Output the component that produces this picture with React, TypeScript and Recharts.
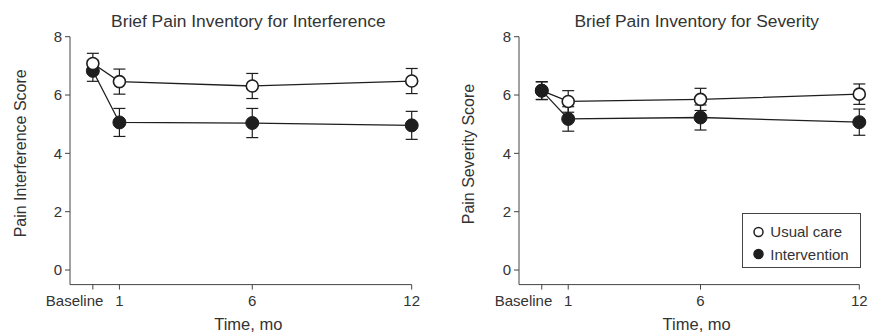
import React from 'react';
import { LineChart, Line, XAxis, YAxis, ErrorBar, Legend } from 'recharts';

const months = [0, 1, 6, 12];
const xTicks = [0, 1, 6, 12];
const xTickLabels = ['Baseline', '1', '6', '12'];
const yTicks = [0, 2, 4, 6, 8];

const interferenceUsual = [7.08, 6.46, 6.31, 6.48];
const interferenceUsualErr = [0.35, 0.43, 0.43, 0.43];
const interferenceIntervention = [6.83, 5.06, 5.04, 4.96];
const interferenceInterventionErr = [0.36, 0.48, 0.5, 0.48];

const severityUsual = [6.15, 5.78, 5.85, 6.03];
const severityUsualErr = [0.3, 0.37, 0.38, 0.35];
const severityIntervention = [6.15, 5.18, 5.23, 5.07];
const severityInterventionErr = [0.31, 0.42, 0.43, 0.45];

const seriesNames = ['Usual care', 'Intervention'];
const panelTitles = ['Brief Pain Inventory for Interference', 'Brief Pain Inventory for Severity'];
const yAxisTitles = ['Pain Interference Score', 'Pain Severity Score'];
const xAxisTitle = 'Time, mo';

const FONT = '"Liberation Sans", Arial, Helvetica, sans-serif';
const TEXT = '#333';
const AXIS = '#444';
const INK = '#1e1e1e';

const build = (u: number[], ue: number[], v: number[], ve: number[]) =>
  months.map((m, i) => ({ month: m, usual: u[i], usualErr: ue[i], intervention: v[i], interventionErr: ve[i] }));

const interferenceData = build(interferenceUsual, interferenceUsualErr, interferenceIntervention, interferenceInterventionErr);
const severityData = build(severityUsual, severityUsualErr, severityIntervention, severityInterventionErr);

const XTick = (props: any) => {
  const { x, y, payload } = props;
  const idx = xTicks.indexOf(payload.value);
  const isBase = payload.value === 0;
  return (
    <text x={isBase ? x + 10.5 : x} y={y} dy="0.71em" textAnchor={isBase ? 'end' : 'middle'}
      fontSize={15} fill={TEXT} fontFamily={FONT}>
      {xTickLabels[idx]}
    </text>
  );
};

const usualDot = { r: 6, fill: '#fff', stroke: INK, strokeWidth: 1.6 };
const intervDot = { r: 6.5, fill: INK, stroke: INK, strokeWidth: 1 };

const LegendBox = () => (
  <div style={{ width: 119, height: 55, border: `1px solid ${AXIS}`, boxSizing: 'border-box', background: '#fff',
    fontFamily: FONT, fontSize: 15, color: TEXT, paddingTop: 6 }}>
    {seriesNames.map((name, i) => (
      <div key={name} style={{ display: 'flex', alignItems: 'center', height: 22.6 }}>
        <svg width={27} height={14} style={{ display: 'block' }}>
          <circle cx={15.5} cy={7} r={4.5} fill={i === 0 ? '#fff' : INK} stroke={INK} strokeWidth={1.5} />
        </svg>
        <span>{name}</span>
      </div>
    ))}
  </div>
);

function Panel(props: { data: any[]; width: number; left: number; right: number; usualOnTop: boolean; legend?: boolean }) {
  const { data, width, left, right, usualOnTop, legend } = props;
  const usual = (
    <Line key="u" type="linear" dataKey="usual" name={seriesNames[0]} stroke={INK} strokeWidth={1.3}
      dot={usualDot} activeDot={false} isAnimationActive={false}>
      <ErrorBar dataKey="usualErr" direction="y" width={6} stroke={INK} strokeWidth={1.2} isAnimationActive={false} />
    </Line>
  );
  const interv = (
    <Line key="i" type="linear" dataKey="intervention" name={seriesNames[1]} stroke={INK} strokeWidth={1.3}
      dot={intervDot} activeDot={false} isAnimationActive={false}>
      <ErrorBar dataKey="interventionErr" direction="y" width={6} stroke={INK} strokeWidth={1.2} isAnimationActive={false} />
    </Line>
  );
  return (
    <LineChart width={width} height={332} data={data}
      margin={{ top: 36.7, right, bottom: 7.4, left }}>
      <XAxis dataKey="month" type="number" domain={[-0.86, 12]} ticks={xTicks}
        tick={<XTick />} tickSize={5} tickMargin={6} height={40} stroke={AXIS} interval={0} />
      <YAxis type="number" domain={[-0.5, 8]} ticks={yTicks} width={60} tickSize={5} tickMargin={3}
        stroke={AXIS} tick={{ fontSize: 15, fill: TEXT, fontFamily: FONT }} interval={0} />
      {usualOnTop ? [interv, usual] : [usual, interv]}
      {legend && (
        <Legend layout="horizontal" verticalAlign="middle" align="center" content={<LegendBox />}
          wrapperStyle={{ left: 302.3, top: 213.3, width: 119, height: 55, bottom: 'auto', right: 'auto' }} />
      )}
    </LineChart>
  );
}

export default function App() {
  return (
    <div style={{ position: 'absolute', left: 0, top: 0, width: 873, height: 332, background: '#fff', fontFamily: FONT }}>
      <div style={{ position: 'absolute', left: 0, top: 0 }}>
        <Panel data={interferenceData} width={440} left={10} right={28.3} usualOnTop={true} />
      </div>
      <div style={{ position: 'absolute', left: 440, top: 0 }}>
        <Panel data={severityData} width={433} left={19} right={13.7} usualOnTop={false} legend />
      </div>
      <svg width={873} height={332} style={{ position: 'absolute', left: 0, top: 0, pointerEvents: 'none' }}>
        <g fontFamily={FONT} fill={TEXT}>
          <text x={248.3} y={27.3} textAnchor="middle" fontSize={17.4}>{panelTitles[0]}</text>
          <text x={696.7} y={27.3} textAnchor="middle" fontSize={17.4}>{panelTitles[1]}</text>
          <text x={248.3} y={329.7} textAnchor="middle" fontSize={16.5}>{xAxisTitle}</text>
          <text x={696.7} y={329.7} textAnchor="middle" fontSize={16.5}>{xAxisTitle}</text>
          <text x={20} y={153.3} dy="0.35em" textAnchor="middle" fontSize={16} transform="rotate(-90 20 153.3)">{yAxisTitles[0]}</text>
          <text x={468.3} y={154} dy="0.35em" textAnchor="middle" fontSize={16} transform="rotate(-90 468.3 154)">{yAxisTitles[1]}</text>
        </g>
      </svg>
    </div>
  );
}
